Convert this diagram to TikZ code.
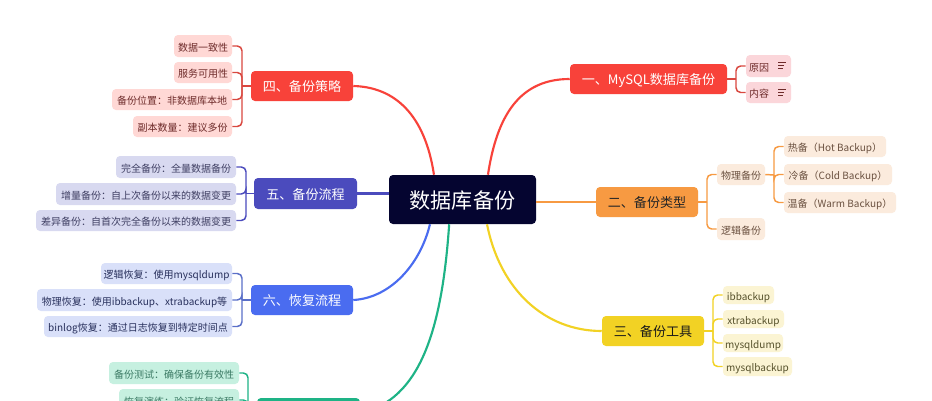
\documentclass[tikz,border=0pt]{standalone}
\usepackage{fontspec}
\setmainfont{Noto Sans CJK SC}
\tikzset{
  x=0.75pt,y=-0.75pt,
  bx/.style={rounded corners=3pt,inner sep=0pt,align=center},
  kid/.style={bx,font=\def\tadj{1.06em}\fontsize{7.5pt}{9pt}\selectfont},
  top/.style={bx,font=\def\tadj{.85em}\fontsize{9.8pt}{12pt}\selectfont},
  rK/.style={kid,fill=cRk,text=cRt},
  pK/.style={kid,fill=cPk,text=cRt},
  iK/.style={kid,fill=cIk,text=cIt},
  bK/.style={kid,fill=cBk,text=cBt},
  gK/.style={kid,fill=cGk,text=cGt},
  oK/.style={kid,fill=cOk,text=cOt},
  yK/.style={kid,fill=cYk,text=cYt},
  bus/.style={line width=1.1pt,rounded corners=3.5pt},
  lnk/.style={line width=1.6pt},
}
\definecolor{cR}{HTML}{F8423A}\definecolor{cRk}{HTML}{FFD8D5}\definecolor{cPk}{HTML}{FBD6DA}\definecolor{cRt}{HTML}{6E2B2A}\definecolor{cRl}{HTML}{D9473F}
\definecolor{cI}{HTML}{4B4BBD}\definecolor{cIk}{HTML}{D8D9F0}\definecolor{cIt}{HTML}{3F3F63}
\definecolor{cB}{HTML}{4A6CF0}\definecolor{cBk}{HTML}{D9E0F9}\definecolor{cBt}{HTML}{28305C}\definecolor{cBl}{HTML}{5A6FC8}
\definecolor{cG}{HTML}{1EB386}\definecolor{cGk}{HTML}{C6F0E0}\definecolor{cGt}{HTML}{3B7A64}
\definecolor{cO}{HTML}{F79A42}\definecolor{cOk}{HTML}{FBEBDD}\definecolor{cOt}{HTML}{6B5140}
\definecolor{cY}{HTML}{F2D224}\definecolor{cYk}{HTML}{FBF4D3}\definecolor{cYt}{HTML}{55502A}\definecolor{cMain}{HTML}{050530}
\newcommand{\kbox}[7]{\node[#2,minimum width={(#5-#3)*0.75pt},minimum height={(#6-#4)*0.75pt}] (#1) at ({(#3+#5)/2},{(#4+#6)/2}) {\raisebox{0pt}[\tadj][0pt]{#7}};}
\newcommand{\notes}[2]{\draw[cRt,line width=0.7pt] (#1,#2-3) -- ++(7.5,0) (#1,#2) -- ++(6,0) (#1,#2+3) -- ++(4.5,0);}
\begin{document}
\begin{tikzpicture}
\useasboundingbox (0,0) rectangle (932,400);
\clip (0,0) rectangle (932,400);
\fill[white] (0,0) rectangle (932,400);
% main
\node[bx,fill=cMain,text=white,minimum width={147*0.75pt},minimum height={49*0.75pt},font=\fontsize{15.8pt}{20pt}\selectfont] (main) at (462.5,199.5) {\raisebox{0pt}[.85em][0pt]{数据库备份}};
% branches
\kbox{p1}{top,fill=cR,text=white}{570}{64}{727}{94}{一、MySQL数据库备份}
\kbox{p2}{top,fill=cO,text=black!85}{596}{187}{698}{217}{二、备份类型}
\kbox{p3}{top,fill=cY,text=black!90}{602}{316}{704}{346}{三、备份工具}
\kbox{p4}{top,fill=cR,text=white}{251}{71}{353}{101}{四、备份策略}
\kbox{p5}{top,fill=cI,text=white}{254}{178}{357}{209}{五、备份流程}
\kbox{p6}{top,fill=cB,text=white}{251}{285}{353}{315}{六、恢复流程}
\kbox{p7}{top,fill=cG}{257}{398}{360}{428}{}
% kids
\kbox{a1}{pK,text width={39*0.75pt},align=left}{746}{55}{791}{77}{原因}
\kbox{a2}{pK,text width={39*0.75pt},align=left}{746}{82}{791}{103}{内容}
\notes{778}{65.5}
\notes{778}{92}
\kbox{b1}{oK}{717}{164}{765}{185}{物理备份}
\kbox{b2}{oK}{717}{218}{765}{240}{逻辑备份}
\kbox{b3}{oK}{784}{136}{886}{157}{热备（Hot Backup）}
\kbox{b4}{oK}{784}{164}{892}{185}{冷备（Cold Backup）}
\kbox{b5}{oK}{784}{192}{896}{213}{温备（Warm Backup）}
\kbox{c1}{yK}{723}{286}{774}{304}{ibbackup}
\kbox{c2}{yK}{723}{310}{784}{328}{xtrabackup}
\kbox{c3}{yK}{723}{334}{783}{352}{mysqldump}
\kbox{c4}{yK}{723}{357}{792}{376}{mysqlbackup}
\kbox{d1}{rK}{174}{35}{232}{57}{数据一致性}
\kbox{d2}{rK}{174}{62}{232}{83}{服务可用性}
\kbox{d3}{rK}{112}{89}{232}{110}{备份位置：非数据库本地}
\kbox{d4}{rK}{133}{116}{232}{137}{副本数量：建议多份}
\kbox{e1}{iK}{116}{156}{236}{178}{完全备份：全量数据备份}
\kbox{e2}{iK}{56}{183}{236}{205}{增量备份：自上次备份以来的数据变更}
\kbox{e3}{iK}{36}{210}{236}{231}{差异备份：自首次完全备份以来的数据变更}
\kbox{f1}{bK}{101}{263}{232}{284}{逻辑恢复：使用mysqldump}
\kbox{f2}{bK}{37}{289}{232}{311}{物理恢复：使用ibbackup、xtrabackup等}
\kbox{f3}{bK}{44}{316}{232}{337}{binlog恢复：通过日志恢复到特定时间点}
\kbox{g1}{gK}{109}{362}{239}{384}{备份测试：确保备份有效性}
\kbox{g2}{gK}{119}{389}{239}{411}{恢复演练：验证恢复流程}
% main links
\draw[lnk,cR] ([xshift=19.1pt]main.north) .. controls (497,115) and (520,79) .. (p1.west);
\draw[lnk,cR] ([xshift=-21.4pt]main.north) .. controls (425,115) and (395,87) .. (p4.east);
\draw[lnk,cI] (main.west |- p5.east) -- (p5.east);
\draw[lnk,cO] (main.east |- p2.west) -- (p2.west);
\draw[lnk,cY] ([xshift=18.4pt]main.south) .. controls (500,290) and (545,331) .. (p3.west);
\draw[lnk,cB] ([xshift=-24.4pt]main.south) .. controls (420,265) and (390,298) .. (p6.east);
\draw[lnk,cG] ([xshift=-10pt]main.south) .. controls (442,330) and (420,400) .. (p7.east);
% bus junctions
\coordinate (j1) at (736,79);
\coordinate (j2) at (707,202);
\coordinate (j2b) at (774,175);
\coordinate (j3) at (713,331);
\coordinate (j4) at (242,86);
\coordinate (j5) at (246,193.5);
\coordinate (j6) at (242,300);
\coordinate (j7) at (248,413);
\foreach \k in {a1,a2}{\draw[bus,cRl] (\k.west) -| (j1);}
\draw[bus,cRl] (p1.east) -- (j1);
\foreach \k in {b1,b2}{\draw[bus,cO] (\k.west) -| (j2);}
\draw[bus,cO] (p2.east) -- (j2);
\foreach \k in {b3,b4,b5}{\draw[bus,cO] (\k.west) -| (j2b);}
\draw[bus,cO] (b1.east) -- (j2b);
\foreach \k in {c1,c2,c3,c4}{\draw[bus,cY] (\k.west) -| (j3);}
\draw[bus,cY] (p3.east) -- (j3);
\foreach \k in {d1,d2,d3,d4}{\draw[bus,cRl] (\k.east) -| (j4);}
\draw[bus,cRl] (p4.west) -- (j4);
\foreach \k in {e1,e2,e3}{\draw[bus,cI] (\k.east) -| (j5);}
\draw[bus,cI] (p5.west) -- (j5);
\foreach \k in {f1,f2,f3}{\draw[bus,cBl] (\k.east) -| (j6);}
\draw[bus,cBl] (p6.west) -- (j6);
\foreach \k in {g1,g2}{\draw[bus,cG] (\k.east) -| (j7);}
\draw[bus,cG] (p7.west) -- (j7);
\end{tikzpicture}
\end{document}
